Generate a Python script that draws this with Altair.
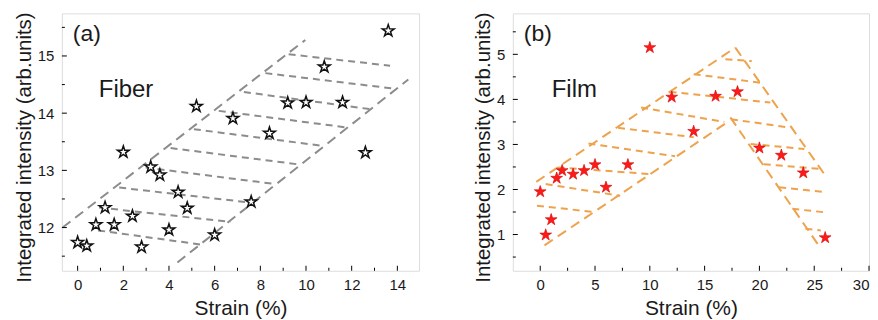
import altair as alt
import pandas as pd

FONT = "Liberation Sans"

# ---------------- Panel (a): Fiber ----------------
fiber_x = [0, 0.4, 0.8, 1.2, 1.6, 2.0, 2.4, 2.8, 3.2, 3.6, 4.0, 4.4, 4.8, 5.2, 6.0,
           6.8, 7.6, 8.4, 9.2, 10.0, 10.8, 11.6, 12.6, 13.6]
fiber_y = [11.74, 11.68, 12.05, 12.35, 12.05, 13.32, 12.20, 11.66, 13.06, 12.92, 11.96,
           12.62, 12.34, 14.12, 11.87, 13.91, 12.45, 13.65, 14.18, 14.19, 14.81, 14.19,
           13.31, 15.44]

# band outline (long dashes)
fiber_edge_x1 = [-0.66, 4.37]
fiber_edge_y1 = [12.00, 11.39]
fiber_edge_x2 = [9.97, 14.48]
fiber_edge_y2 = [15.28, 14.59]
# hatching (short dashes)
fiber_hatch_x1 = [9.24, 8.22, 7.28, 6.18, 5.09, 4.07, 2.98, 1.82, 0.94, 0.90]
fiber_hatch_y1 = [15.03, 14.70, 14.37, 14.04, 13.72, 13.39, 13.05, 12.70, 12.35, 11.95]
fiber_hatch_x2 = [13.68, 13.83, 12.81, 11.79, 10.70, 9.75, 8.66, 7.71, 6.69, 5.46]
fiber_hatch_y2 = [14.83, 14.43, 14.07, 13.75, 13.43, 13.10, 12.76, 12.43, 12.10, 11.70]

fiber_xmajor = [0, 2, 4, 6, 8, 10, 12, 14]
fiber_xminor = [1, 3, 5, 7, 9, 11, 13]
fiber_ymajor = [12, 13, 14, 15]
fiber_yminor = [11.5, 12.5, 13.5, 14.5, 15.5]

# ---------------- Panel (b): Film ----------------
film_x = [0, 0.5, 1, 1.5, 2, 3, 4, 5, 6, 8, 10, 12, 14, 16, 18, 20, 22, 24, 26]
film_y = [1.95, 0.99, 1.33, 2.25, 2.42, 2.34, 2.42, 2.55, 2.05, 2.55, 5.15, 4.05, 3.29,
          4.07, 4.17, 2.92, 2.76, 2.37, 0.93]

film_edge_x1 = [-0.36, 17.80, 0.39, 17.35]
film_edge_y1 = [2.17, 5.15, 0.76, 3.60]
film_edge_x2 = [17.80, 26.13, 17.05, 25.40]
film_edge_y2 = [5.15, 2.27, 3.49, 0.76]

film_hatch_x1 = [-0.30, 0.50, 1.60, 4.40, 7.10, 9.20, 11.80, 14.00, 16.90,
                 17.40, 19.20, 20.40, 21.80, 23.00, 24.20]
film_hatch_y1 = [1.64, 2.12, 2.49, 3.02, 3.37, 3.82, 4.17, 4.56, 4.89,
                 3.56, 3.01, 2.56, 2.05, 1.57, 1.13]
film_hatch_x2 = [4.93, 7.30, 10.20, 12.30, 14.00, 16.80, 21.00, 20.10, 19.30,
                 22.60, 24.10, 25.80, 26.10, 26.10, 25.60]
film_hatch_y2 = [1.50, 1.86, 2.34, 2.74, 3.16, 3.50, 3.93, 4.37, 4.85,
                 3.38, 2.90, 2.45, 1.94, 1.49, 1.09]

film_xmajor = [0, 5, 10, 15, 20, 25, 30]
film_xminor = [2.5, 7.5, 12.5, 17.5, 22.5, 27.5]
film_ymajor = [1, 2, 3, 4, 5]
film_yminor = [0.5, 1.5, 2.5, 3.5, 4.5, 5.5]

STAR = ("M0,-1 L0.2245,-0.309 L0.951,-0.309 L0.363,0.118 L0.588,0.809 L0,0.382 "
        "L-0.588,0.809 L-0.363,0.118 L-0.951,-0.309 L-0.2245,-0.309 Z")


def make_panel(W, H, xdom, ydom, xs, ys, ex1, ey1, ex2, ey2, hx1, hy1, hx2, hy2,
               xmaj, xmin, ymaj, ymin, line_color, star_fill, star_stroke, star_sw,
               tag, name, name_dx):
    xscale = alt.Scale(domain=xdom, nice=False, zero=False)
    yscale = alt.Scale(domain=ydom, nice=False, zero=False)
    xaxis = alt.Axis(values=xmaj, ticks=False, domain=False, grid=False, format="~g",
                     labelFont=FONT, labelFontSize=15, labelColor="#1a1a1a", labelPadding=7,
                     title="Strain (%)", titleFont=FONT, titleFontSize=21,
                     titleFontWeight="normal", titleColor="#1a1a1a", titlePadding=5)
    yaxis = alt.Axis(values=ymaj, ticks=False, domain=False, grid=False, format="~g",
                     labelFont=FONT, labelFontSize=15, labelColor="#1a1a1a", labelPadding=8,
                     title="Integrated intensity (arb.units)", titleFont=FONT,
                     titleFontSize=20.5, titleFontWeight="normal", titleColor="#1a1a1a",
                     titlePadding=3, titleY=134)

    def X(f="x"):
        return alt.X(f"{f}:Q", scale=xscale, axis=xaxis)

    def Y(f="y"):
        return alt.Y(f"{f}:Q", scale=yscale, axis=yaxis)

    edges = pd.DataFrame({"x": ex1, "y": ey1, "x2": ex2, "y2": ey2})
    hatch = pd.DataFrame({"x": hx1, "y": hy1, "x2": hx2, "y2": hy2})
    pts = pd.DataFrame({"x": xs, "y": ys})

    edge_layer = alt.Chart(edges).mark_rule(
        color=line_color, strokeWidth=2, strokeDash=[10, 6]
    ).encode(x=X(), y=Y(), x2="x2:Q", y2="y2:Q")
    hatch_layer = alt.Chart(hatch).mark_rule(
        color=line_color, strokeWidth=2, strokeDash=[7, 5]
    ).encode(x=X(), y=Y(), x2="x2:Q", y2="y2:Q")
    star_layer = alt.Chart(pts).mark_point(
        shape=STAR, size=155, filled=True, fill=star_fill, stroke=star_stroke,
        strokeWidth=star_sw, opacity=1
    ).encode(x=X(), y=Y())

    xmaj_t = alt.Chart(pd.DataFrame({"x": xmaj})).mark_rule(color="black", strokeWidth=1).encode(
        x=X(), y=alt.value(H), y2=alt.value(H - 5))
    xmin_t = alt.Chart(pd.DataFrame({"x": xmin})).mark_rule(color="black", strokeWidth=1).encode(
        x=X(), y=alt.value(H), y2=alt.value(H - 3))
    ymaj_t = alt.Chart(pd.DataFrame({"y": ymaj})).mark_rule(color="black", strokeWidth=1).encode(
        y=Y(), x=alt.value(0), x2=alt.value(5))
    ymin_t = alt.Chart(pd.DataFrame({"y": ymin})).mark_rule(color="black", strokeWidth=1).encode(
        y=Y(), x=alt.value(0), x2=alt.value(3))

    tag_t = alt.Chart(pd.DataFrame({"t": [tag]})).mark_text(
        font=FONT, fontSize=23, align="left", baseline="middle", color="#1a1a1a"
    ).encode(text="t:N", x=alt.value(11), y=alt.value(21))
    name_t = alt.Chart(pd.DataFrame({"t": [name]})).mark_text(
        font=FONT, fontSize=24, align="left", baseline="middle", color="#1a1a1a"
    ).encode(text="t:N", x=alt.value(name_dx), y=alt.value(77))

    return alt.layer(edge_layer, hatch_layer, star_layer, xmaj_t, xmin_t, ymaj_t, ymin_t,
                     tag_t, name_t).properties(width=W, height=H)


panel_a = make_panel(358, 258, [-0.69, 14.95], [11.245, 15.745], fiber_x, fiber_y,
                     fiber_edge_x1, fiber_edge_y1, fiber_edge_x2, fiber_edge_y2,
                     fiber_hatch_x1, fiber_hatch_y1, fiber_hatch_x2, fiber_hatch_y2,
                     fiber_xmajor, fiber_xminor, fiber_ymajor, fiber_yminor,
                     "#8c8c8c", "white", "#111111", 1.5, "(a)", "Fiber", 37)

panel_b = make_panel(357, 258, [-2.5, 30], [0.196, 5.91], film_x, film_y,
                     film_edge_x1, film_edge_y1, film_edge_x2, film_edge_y2,
                     film_hatch_x1, film_hatch_y1, film_hatch_x2, film_hatch_y2,
                     film_xmajor, film_xminor, film_ymajor, film_yminor,
                     "#EEA24C", "#FF1A1A", "#D40000", 0.6, "(b)", "Film", 39)

chart = alt.hconcat(panel_a, panel_b, spacing=53).properties(
    padding={"left": 5, "top": 2, "right": 0, "bottom": 0}
).configure_view(stroke="#222222", strokeWidth=1.5).configure(background="white")

chart.save("out.html", embed_options={"renderer": "svg", "actions": False})
